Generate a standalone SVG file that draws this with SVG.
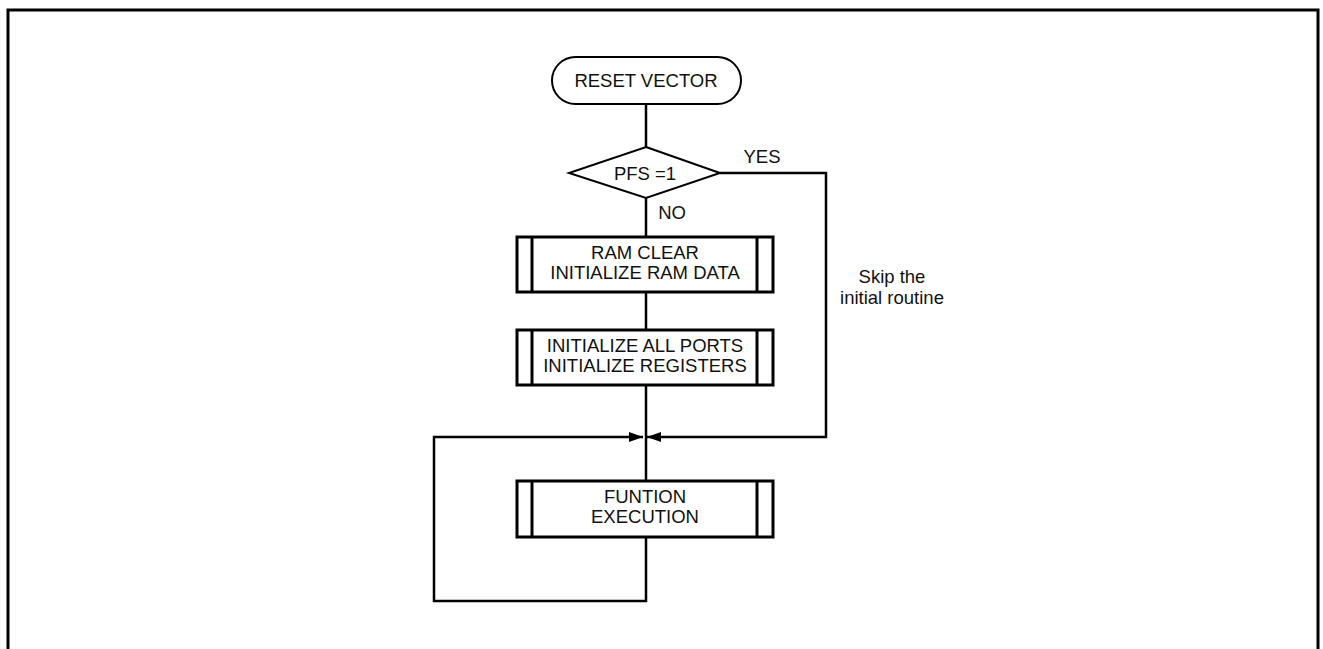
<svg xmlns="http://www.w3.org/2000/svg" width="1323" height="649" viewBox="0 0 1323 649">
<style>
.shape{fill:#fff;stroke:#000;stroke-width:3}
.thin{stroke-width:2}
.bar{fill:none;stroke:#000;stroke-width:3}
.conn{fill:none;stroke:#000;stroke-width:2.5}
.lbl{font-family:"Liberation Sans",Arial,sans-serif;font-size:18.5px;fill:#111;text-anchor:middle}
</style>
<defs>
<marker id="ah" viewBox="0 0 14 10" refX="14" refY="5" markerWidth="14" markerHeight="10" markerUnits="userSpaceOnUse" orient="auto">
<path d="M0,0 L14,5 L0,10 Z" fill="#000"/>
</marker>
</defs>
<rect width="1323" height="649" fill="#fff"/>
<path d="M8,660 V10 H1318 V660" fill="none" stroke="#000" stroke-width="3"/>
<g id="connectors">
<line class="conn" x1="646" y1="104" x2="646" y2="147"/>
<line class="conn" x1="646" y1="198" x2="646" y2="237"/>
<polyline class="conn" points="720,173 826,173 826,437 647,437" marker-end="url(#ah)"/>
<line class="conn" x1="646" y1="292" x2="646" y2="330"/>
<line class="conn" x1="646" y1="385" x2="646" y2="481"/>
<polyline class="conn" points="646,537 646,601 434,601 434,437 643,437" marker-end="url(#ah)"/>
<text class="lbl" x="762" y="163">YES</text>
<text class="lbl" x="672" y="219">NO</text>
<text class="lbl" x="892" y="283">Skip the</text>
<text class="lbl" x="892" y="304">initial routine</text>
</g>
<g id="reset">
<rect class="shape thin" x="552" y="57" width="189" height="47" rx="23.5"/>
<text class="lbl" x="646" y="87">RESET VECTOR</text>
</g>
<g id="pfs">
<polygon class="shape thin" points="646,147 720,173 646,198 569,173"/>
<text class="lbl" x="645" y="180">PFS =1</text>
</g>
<g id="ramclear">
<rect class="shape" x="517" y="237" width="256" height="55"/>
<line class="bar" x1="532" y1="237" x2="532" y2="292"/>
<line class="bar" x1="757" y1="237" x2="757" y2="292"/>
<text class="lbl" x="645" y="259">RAM CLEAR</text>
<text class="lbl" x="645" y="279">INITIALIZE RAM DATA</text>
</g>
<g id="initports">
<rect class="shape" x="517" y="330" width="256" height="55"/>
<line class="bar" x1="532" y1="330" x2="532" y2="385"/>
<line class="bar" x1="757" y1="330" x2="757" y2="385"/>
<text class="lbl" x="645" y="352">INITIALIZE ALL PORTS</text>
<text class="lbl" x="645" y="372">INITIALIZE REGISTERS</text>
</g>
<g id="function">
<rect class="shape" x="517" y="481" width="256" height="56"/>
<line class="bar" x1="532" y1="481" x2="532" y2="537"/>
<line class="bar" x1="757" y1="481" x2="757" y2="537"/>
<text class="lbl" x="645" y="503">FUNTION</text>
<text class="lbl" x="645" y="523">EXECUTION</text>
</g>
</svg>
